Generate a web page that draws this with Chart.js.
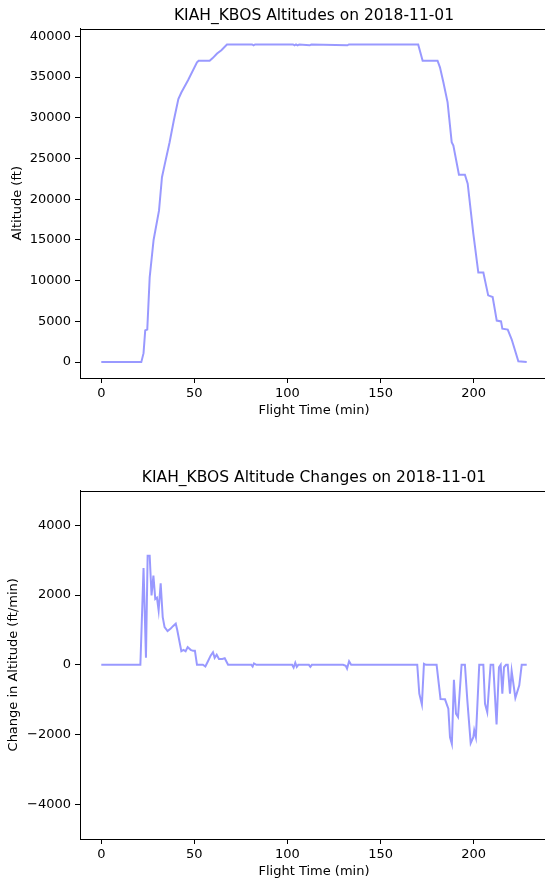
<!DOCTYPE html>
<html>
<head>
<meta charset="utf-8">
<script src="https://cdn.jsdelivr.net/npm/chart.js@4.4.1/dist/chart.umd.min.js"></script>
<style>
html,body{margin:0;padding:0;background:#fff;overflow:hidden;width:545px;height:882px;}
.box{position:absolute;left:0;width:580px;height:420px;}
#box1{top:0;}
#box2{top:462px;}
</style>
</head>
<body>
<div class="box" id="box1"><canvas id="alt" width="580" height="420"></canvas></div>
<div class="box" id="box2"><canvas id="chg" width="580" height="420"></canvas></div>
<script>
// altitude profile (min, ft) - vertices
var ALT_TIME = [0,21.5,22.7,23.6,24.7,26.0,28.1,31.0,32.6,34.2,36.7,38.9,41.4,43.0,46.6,51.4,52.3,58.2,59.7,62.2,64.5,67.5,
  81.0,81.8,82.6,103.0,103.8,104.6,105.5,106.3,112.0,112.8,132.2,133.0,
  170.2,172.6,180.6,181.9,183.7,186.0,188.2,189.1,192.1,195.3,196.8,199.8,202.5,205.2,207.8,210.2,212.4,214.7,215.4,218.3,220.4,224.0,228.5];
var ALT_FT = [0,0,1100,3900,4000,10400,15000,18600,22700,24400,27000,29600,32300,33100,34600,36800,37000,37000,37300,37900,38300,39000,
  39000,38900,39000,39000,38900,39000,38900,39000,38900,39000,38900,39000,
  39000,37000,37000,36200,34400,31900,27000,26600,23000,23000,21900,15800,11000,11000,8200,8000,5100,5000,4100,4000,2800,100,0];

// rate of climb (min, ft/min)
var CHG_TIME = [0,21.0,22.7,24.0,24.9,26.0,27.0,28.0,29.0,29.9,30.8,31.9,33.0,34.0,35.6,37.3,38.5,40.0,40.8,43.0,44.2,45.3,46.4,48.0,49.3,50.3,51.4,
  54.6,55.9,57.3,58.8,60.0,60.9,62.0,63.2,65.0,66.3,68.1,80.6,81.3,82.0,83.3,
  102.5,103.3,104.2,105.0,105.8,111.5,112.3,113.1,129.9,131.3,132.0,133.1,134.2,
  169.7,170.8,172.2,173.3,174.4,180.1,182.2,184.6,186.4,187.3,188.3,189.4,190.5,191.6,193.5,195.3,196.6,198.4,199.8,200.3,201.2,
  203.0,205.2,206.1,207.3,209.1,210.5,212.3,213.6,214.5,215.4,216.3,217.4,218.3,219.5,220.4,222.4,224.5,225.8,228.5];
var CHG_FPM = [0,0,2780,200,3130,3130,1990,2560,1890,1930,1560,2340,1370,1080,970,1040,1110,1180,1000,390,430,390,510,430,400,400,0,
  0,-50,100,270,360,200,290,170,170,190,0,0,-50,40,0,
  0,-80,60,-60,0,0,-60,0,0,-30,-110,100,0,
  0,-830,-1140,30,0,0,-980,-990,-1260,-2080,-2270,-430,-1400,-1500,0,0,-1020,-2250,-2080,-1880,-2080,
  0,0,-1120,-1360,0,0,-1710,-70,0,-830,-70,0,0,-830,-180,-950,-590,0,0];

var X_TICKS = [0,50,100,150,200];
var ALT_TICKS = [0,5000,10000,15000,20000,25000,30000,35000,40000];
var CHG_TICKS = [-4000,-2000,0,2000,4000];

Chart.defaults.font.family = "'DejaVu Sans', sans-serif";
Chart.defaults.color = '#000';

var LINE_COLOR = 'rgba(0,0,255,0.4)';
var TITLE_TOP = 28.6;//タイトル領域の高さ

// top spine + title centred over the axes (matplotlib style)
var framePlugin = {
  id: 'frame',
  afterDraw: function(chart, args, opts){
    var a = chart.chartArea, ctx = chart.ctx;
    ctx.save();
    ctx.strokeStyle = '#000';
    ctx.lineWidth = 1;
    ctx.beginPath();
    ctx.moveTo(Math.round(a.left) + 0.5, Math.round(a.top) + 0.5);
    ctx.lineTo(Math.round(a.right) + 0.5, Math.round(a.top) + 0.5);
    ctx.stroke();
    ctx.fillStyle = '#000';
    ctx.font = "15.5px 'DejaVu Sans', sans-serif";
    ctx.textAlign = 'center';
    ctx.textBaseline = 'middle';
    ctx.fillText(opts.text, (a.left + a.right) / 2, 15.5);
    ctx.restore();
  }
};

function fmt(v){ return String(v).replace('-', '\u2212'); }

function pts(xs, ys){
  var out = [];
  for (let i = 0; i < xs.length; i++) out.push({x: xs[i], y: ys[i]});
  return out;
}

function MakeChart(id, title, ylabel, xs, ys, ymin, ymax, yticks, xHeight, yTitlePad, xTitlePad){
  var span = xs[xs.length - 1] - xs[0];
  return new Chart(document.getElementById(id), {
    type: 'line',
    data: {
      datasets: [{
        data: pts(xs, ys),
        borderColor: LINE_COLOR,
        borderWidth: 2,
        pointRadius: 0,
        tension: 0,
        fill: false
      }]
    },
    options: {
      responsive: false,
      animation: false,
      events: [],
      layout: {padding: {left: 0, right: 32, top: TITLE_TOP, bottom: 0}},
      plugins: {
        legend: {display: false},
        tooltip: {enabled: false},
        title: {display: false},
        frame: {text: title}
      },
      scales: {
        x: {
          type: 'linear',
          min: xs[0] - span * 0.05,
          max: xs[xs.length - 1] + span * 0.05,
          afterBuildTicks: function(s){ s.ticks = X_TICKS.map(v => ({value: v})); },
          afterFit: function(s){ s.height = xHeight; },
          grid: {display: true, drawOnChartArea: false, drawTicks: true, tickLength: 5, color: '#000'},
          border: {display: true, color: '#000', width: 1},
          ticks: {padding: 3, maxRotation: 0, font: {size: 13}, color: '#000', callback: fmt},
          title: {display: true, text: 'Flight Time (min)', font: {size: 13}, color: '#000', padding: {top: 0, bottom: xTitlePad}}
        },
        y: {
          type: 'linear',
          min: ymin,
          max: ymax,
          afterBuildTicks: function(s){ s.ticks = yticks.map(v => ({value: v})); },
          afterFit: function(s){ s.width = 80; },
          grid: {display: true, drawOnChartArea: false, drawTicks: true, tickLength: 5, color: '#000'},
          border: {display: true, color: '#000', width: 1},
          ticks: {padding: 4, font: {size: 13}, color: '#000', callback: fmt},
          title: {display: true, text: ylabel, font: {size: 13}, color: '#000', padding: {top: yTitlePad, bottom: 0}}
        }
      }
    },
    plugins: [framePlugin]
  });
}

MakeChart('alt', 'KIAH_KBOS Altitudes on 2018-11-01', 'Altitude (ft)',
  ALT_TIME, ALT_FT, -1950, 40950, ALT_TICKS, 42, 10, 2);
MakeChart('chg', 'KIAH_KBOS Altitude Changes on 2018-11-01', 'Change in Altitude (ft/min)',
  CHG_TIME, CHG_FPM, -5000, 5000, CHG_TICKS, 43, 6, 3);
</script>
</body>
</html>
